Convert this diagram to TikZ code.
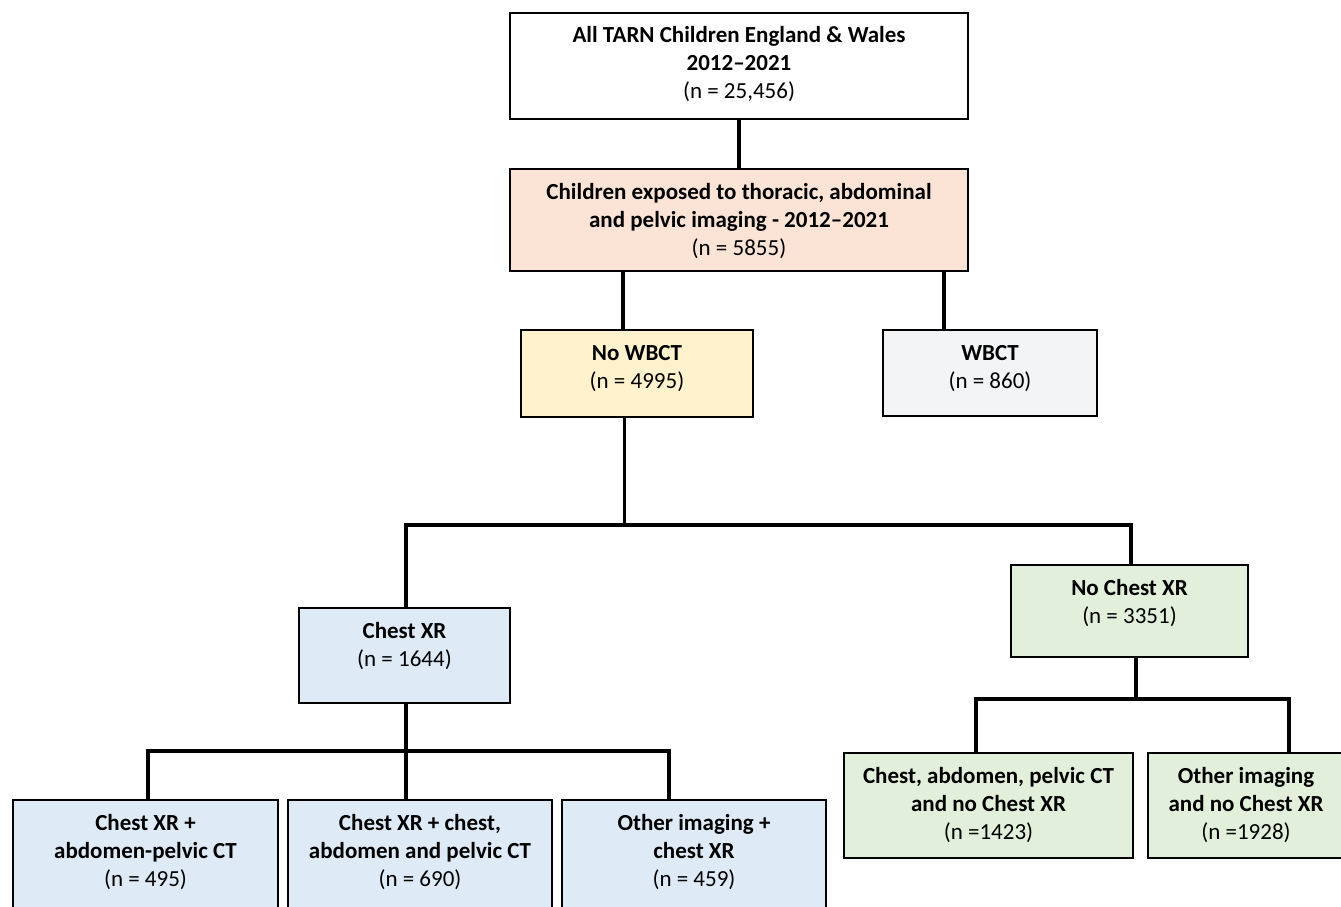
\documentclass[tikz,border=0pt]{standalone}
\usepackage{fontspec}
\setmainfont{Carlito}
\definecolor{peach}{HTML}{FBE3D6}
\definecolor{paleyellow}{HTML}{FFF2CC}
\definecolor{palegray}{HTML}{F3F4F6}
\definecolor{paleblue}{HTML}{DEEBF7}
\definecolor{palegreen}{HTML}{E2EFDA}
\newcommand{\bxt}[3]{\parbox[t][#2pt][t]{#1pt}{\centering\rule{0pt}{30pt}#3}}
\begin{document}
\begin{tikzpicture}[x=1pt,y=-1pt,
  every node/.style={font=\fontsize{23}{28}\selectfont},
  boxnode/.style={draw=black,line width=2pt,inner sep=0pt,anchor=north west},
  conn/.style={draw=black,line width=3.5pt,line join=miter,line cap=rect},
  connb/.style={draw=black,line width=4pt,line cap=butt}]
\path[use as bounding box] (0,0) rectangle (1341,907);
\clip (0,0) rectangle (1341,907);
\fill[white] (0,0) rectangle (1341,907);

\node[boxnode,fill=white] (top) at (509,12)
  {\bxt{458}{106}{\textbf{All TARN Children England \& Wales}\\\textbf{2012–2021}\\(n = 25,456)}};
\node[boxnode,fill=peach] (exp) at (509,168)
  {\bxt{458}{102}{\textbf{Children exposed to thoracic, abdominal}\\\textbf{and pelvic imaging - 2012–2021}\\(n = 5855)}};
\node[boxnode,fill=paleyellow] (nowbct) at (520,329)
  {\bxt{232}{87}{\textbf{No WBCT}\\(n = 4995)}};
\node[boxnode,fill=palegray] (wbct) at (882,329)
  {\bxt{214}{86}{\textbf{WBCT}\\(n = 860)}};
\node[boxnode,fill=paleblue] (chest) at (298,607)
  {\bxt{211}{95}{\textbf{Chest XR}\\(n = 1644)}};
\node[boxnode,fill=palegreen] (nochest) at (1010,564)
  {\bxt{237}{92}{\textbf{No Chest XR}\\(n = 3351)}};
\node[boxnode,fill=paleblue] (b1) at (12,799)
  {\bxt{265}{112}{\textbf{Chest XR +}\\\textbf{abdomen-pelvic CT}\\(n = 495)}};
\node[boxnode,fill=paleblue] (b2) at (287,799)
  {\bxt{264}{112}{\textbf{Chest XR + chest,}\\\textbf{abdomen and pelvic CT}\\(n = 690)}};
\node[boxnode,fill=paleblue] (b3) at (561,799)
  {\bxt{264}{112}{\textbf{Other imaging +}\\\textbf{chest XR}\\(n = 459)}};
\node[boxnode,fill=palegreen] (r1) at (843,752)
  {\bxt{289}{105}{\textbf{Chest, abdomen, pelvic CT}\\\textbf{and no Chest XR}\\(n =1423)}};
\node[boxnode,fill=palegreen] (r2) at (1147,752)
  {\bxt{196}{105}{\textbf{Other imaging}\\\textbf{and no Chest XR}\\(n =1928)}};

\coordinate (c623) at (623,0);
\coordinate (c944) at (944,0);
\coordinate (h1) at (624,525);
\coordinate (c406) at (406,0);
\coordinate (c1131) at (1131,0);
\coordinate (h2) at (406,751);
\coordinate (c148) at (148,0);
\coordinate (c669) at (669,0);
\coordinate (h3) at (1136,699);
\coordinate (c976) at (976,0);
\coordinate (c1289) at (1289,0);

\draw[connb] (top.south -| exp.north) -- (exp.north);
\draw[connb] (exp.south -| c623) -- (nowbct.north -| c623);
\draw[connb] (exp.south -| c944) -- (wbct.north -| c944);
\draw[conn,line width=3pt] (nowbct.south -| h1) -- (h1);
\draw[conn] (chest.north -| c406) |- (h1) -| (nochest.north -| c1131);
\draw[conn] (chest.south -| h2) -- (h2);
\draw[conn] (b1.north -| c148) |- (h2) -| (b3.north -| c669);
\draw[conn] (h2) -- (b2.north -| h2);
\draw[conn] (nochest.south -| h3) -- (h3);
\draw[conn] (r1.north -| c976) |- (h3) -| (r2.north -| c1289);
\end{tikzpicture}
\end{document}
